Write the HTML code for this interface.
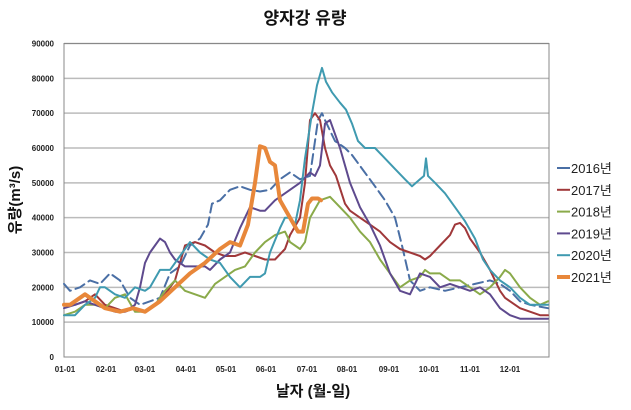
<!DOCTYPE html>
<html><head><meta charset="utf-8"><style>
body{margin:0;background:#fff;width:631px;height:405px;overflow:hidden}
text{font-family:"Liberation Sans","Noto Sans CJK KR",sans-serif}
</style></head><body>
<svg id="s" width="631" height="405" xmlns="http://www.w3.org/2000/svg">
<rect width="631" height="405" fill="#fff"/>
<text x="305" y="24" font-size="17" font-weight="bold" text-anchor="middle" fill="#111">양자강 유량</text>
<g id="grid"></g>
<rect x="64" y="43.5" width="485" height="313.5" fill="none" stroke="#888" stroke-width="1"/>
<text transform="translate(20,200) rotate(-90)" font-size="15" font-weight="bold" text-anchor="middle" fill="#111">유량(m³/s)</text>
<text x="313" y="396" font-size="15" font-weight="bold" text-anchor="middle" fill="#111">날자 (월-일)</text>
<g id="series" fill="none" stroke-linejoin="round" stroke-linecap="round"></g>
<g id="legend"></g>
</svg>
<script>
var Y=function(v){return 357-v*1000*313.5/90000;};
var g=document.getElementById('grid'),h='';
for(var i=0;i<=9;i++){var y=Y(i*10);
 if(i>0)h+='<line x1="64" x2="549" y1="'+y+'" y2="'+y+'" stroke="#bbb" stroke-width="1.5"/>';
 h+='<text x="54" y="'+(y+3)+'" font-size="8" font-weight="bold" text-anchor="end" fill="#222">'+(i*10000)+'</text>';}
var mx=[65,106,145,186,226,266,307,347,389,429,470,510];
mx.forEach(function(x,i){h+='<text x="'+x+'" y="372" font-size="8" font-weight="bold" text-anchor="middle" fill="#222">'+(i<9?'0':'')+(i+1)+'-01</text>';});
g.innerHTML=h;
var S=[
["#4a6fa5",2,[[64,21],[70,19],[80,20],[90,22],[100,21],[110,24],[120,22],[130,17],[140,15],[150,16],[160,17],[170,24],[180,26],[190,32],[200,34],[208,38],[212,44],[220,45],[230,48],[240,49],[250,48],[260,47.5],[270,48],[280,51],[290,53],[300,51],[310,52],[318,68],[322,70],[325,68],[335,62],[345,60],[352,58],[375,49],[385,45],[395,40],[402,32],[410,22],[420,19],[430,20],[445,19],[460,20],[475,21],[490,22],[500,21],[510,19],[520,16],[530,15],[548,14]],"10,5"],
["#a0383a",2,[[64,15],[75,15],[85,16],[95,18],[105,15],[115,14],[125,13],[135,14],[145,13],[155,15],[165,18],[175,22],[180,27],[185,32],[195,33],[205,32],[215,30],[225,29],[235,29],[245,30],[255,29],[265,28],[275,28],[285,31],[290,35],[300,40],[305,50],[310,68],[315,70],[320,68],[325,60],[330,55],[336,52],[345,44],[350,42],[360,40],[370,38],[380,36],[390,33],[400,31],[410,30],[420,29],[425,28],[430,29],[440,32],[450,35],[455,38],[460,38.5],[465,37],[470,34],[480,30],[490,25],[495,22],[500,19],[505,17],[510,16],[520,14],[530,13],[540,12],[548,12]]],
["#8aaa4a",2,[[64,12],[75,13],[85,15],[95,15],[105,14],[115,17],[125,18],[135,13],[145,13],[155,15],[165,19],[175,22],[185,19],[195,18],[205,17],[215,21],[225,23],[235,25],[245,26],[255,30],[265,33],[275,35],[285,36],[290,33],[300,31],[305,33],[310,40],[320,45],[330,46],[340,43],[350,40],[360,36],[370,33],[380,28],[390,24],[400,20],[410,22],[420,23],[425,25],[430,24],[440,24],[450,22],[460,22],[470,20],[480,18],[490,20],[500,23],[505,25],[510,24],[520,20],[530,17],[540,15],[548,16]]],
["#5e4a8e",2,[[64,14],[75,15],[85,16],[95,15],[105,14],[115,13],[125,13],[135,15],[140,20],[145,27],[150,30],[155,32],[160,34],[165,33],[170,30],[175,28],[185,26],[195,26],[205,26],[210,25],[220,28],[230,30],[240,37],[250,43],[260,42],[265,42],[275,45],[285,47],[295,49],[300,50],[310,53],[315,52],[320,55],[325,67],[330,68],[340,60],[350,50],[360,43],[370,38],[380,32],[390,24],[400,19],[410,18],[420,24],[430,23],[440,20],[450,21],[460,20],[470,19],[480,20],[490,18],[500,14],[510,12],[520,11],[530,11],[540,11],[548,11]]],
["#3f9ab0",2,[[64,12],[75,12],[85,15],[95,17],[100,20],[105,20],[115,18],[125,17],[135,20],[145,19],[150,20],[160,25],[170,25],[180,29],[190,33],[200,30],[210,28],[220,27],[230,23],[240,20],[250,23],[260,23],[265,24],[270,30],[280,37],[285,40],[290,40],[295,38],[300,45],[305,57],[312,70],[317,78],[322,83],[326,79],[332,76],[340,73],[346,71],[352,67],[358,62],[365,60],[375,60],[385,57],[395,54],[405,51],[412,49],[420,51],[424,52],[426,57],[428,52],[435,50],[445,47],[455,43],[465,39],[475,34],[483,28],[490,25],[500,22],[510,20],[520,17],[530,15],[540,15],[548,15]]],
["#e8873a",4,[[64,15],[70,15],[85,18],[95,16],[105,14],[120,13],[133,14],[145,13],[160,16],[175,20],[190,24],[205,27],[220,31],[230,33],[240,32],[248,38],[255,50],[260,60.5],[265,60],[270,56],[275,55],[280,45],[290,40],[298,36],[303,36],[308,44],[312,45.5],[318,45.5],[321,45]]]
];
var sh='',lh='',names=['2016년','2017년','2018년','2019년','2020년','2021년'];
S.forEach(function(s,i){
 sh+='<polyline stroke="'+s[0]+'" stroke-width="'+s[1]+'" '+(s[3]?'stroke-dasharray="'+s[3]+'" ':'')+'points="'+s[2].map(function(p){return p[0]+','+Y(p[1]).toFixed(1)}).join(' ')+'"/>';
 var y=168+i*21.8;
 lh+='<line x1="557" x2="570" y1="'+y+'" y2="'+y+'" stroke="'+s[0]+'" stroke-width="'+(i==5?4:2)+'"/><text x="571" y="'+(y+5)+'" font-size="13" fill="#222">'+names[i]+'</text>';
});
document.getElementById('series').innerHTML=sh;
document.getElementById('legend').innerHTML=lh;
</script>
</body></html>
